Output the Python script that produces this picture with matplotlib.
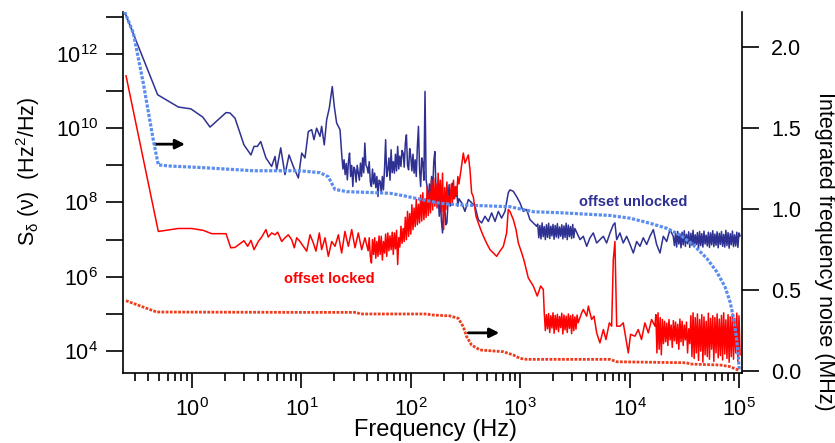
import numpy as np
import matplotlib.pyplot as plt
from matplotlib.ticker import FixedLocator, LogLocator, NullFormatter, LogFormatterSciNotation

plt.rcParams['font.family'] = ['Liberation Sans', 'DejaVu Sans']
plt.rcParams['mathtext.default'] = 'regular'

# Colours
c_unlock = '#2e3192'
c_lock = '#ff0000'
c_int_unlock = '#5b8def'
c_int_lock = '#ee3b1c'

# Spectrum, offset unlocked (log10 f in Hz, log10 S in Hz^2/Hz)
unlocked_logf = [-0.616, -0.314, -0.125, -0.01, 0.098, 0.165, 0.311, 0.347, 0.393, 0.475,
                 0.539, 0.567, 0.597, 0.628, 0.676, 0.728, 0.759, 0.774, 0.811, 0.850,
                 0.887, 0.926, 0.972, 1.003, 1.033, 1.063, 1.094, 1.115, 1.139, 1.170,
                 1.185, 1.209, 1.231, 1.255, 1.282, 1.301, 1.322, 1.353,
                 1.37, 1.38, 1.39, 1.40, 1.41, 1.42, 1.43, 1.44, 1.45, 1.46,
                 1.47, 1.48, 1.49, 1.50, 1.51, 1.52, 1.53, 1.54, 1.55, 1.56,
                 1.57, 1.58, 1.59, 1.60, 1.61, 1.62, 1.63, 1.64, 1.65, 1.66,
                 1.67, 1.68, 1.69, 1.70, 1.71, 1.72, 1.73, 1.74, 1.75, 1.76,
                 1.77, 1.78, 1.79, 1.80, 1.81, 1.82, 1.83, 1.84, 1.85, 1.86,
                 1.87, 1.88, 1.89, 1.90, 1.91, 1.92, 1.93, 1.94, 1.95, 1.96,
                 1.97, 1.98, 1.99, 2.00, 2.01, 2.02, 2.03, 2.04, 2.05, 2.06,
                 2.07, 2.08, 2.09, 2.10, 2.11, 2.12, 2.13, 2.14, 2.15, 2.16,
                 2.17, 2.18, 2.19, 2.20, 2.21, 2.22, 2.23, 2.24, 2.25, 2.26,
                 2.27, 2.28, 2.29, 2.30, 2.31, 2.32, 2.33, 2.34, 2.35, 2.36,
                 2.37, 2.38, 2.39, 2.40, 2.41, 2.42, 2.43, 2.44,
                 2.465, 2.495, 2.526, 2.556, 2.587, 2.617, 2.648, 2.678, 2.709,
                 2.739, 2.770, 2.800, 2.830, 2.861, 2.891, 2.906, 2.937, 2.967, 2.998,
                 3.028, 3.059, 3.089, 3.120, 3.150,
                 3.16, 3.17, 3.18, 3.19, 3.20, 3.21, 3.22, 3.23, 3.24, 3.25,
                 3.26, 3.27, 3.28, 3.29, 3.30, 3.31, 3.32, 3.33, 3.34, 3.35,
                 3.36, 3.37, 3.38, 3.39, 3.40, 3.41, 3.42, 3.43, 3.44, 3.45,
                 3.46, 3.47, 3.48, 3.49, 3.50,
                 3.547, 3.577, 3.608, 3.638, 3.668, 3.699, 3.729, 3.760, 3.790, 3.821,
                 3.851, 3.866, 3.882, 3.912, 3.942, 3.973, 4.004, 4.034, 4.065, 4.095,
                 4.125, 4.156, 4.186, 4.217, 4.247, 4.278, 4.308, 4.339, 4.369, 4.399,
                 4.41, 4.42, 4.43, 4.44, 4.45, 4.46, 4.47, 4.48, 4.49, 4.50,
                 4.51, 4.52, 4.53, 4.54, 4.55, 4.56, 4.57, 4.58, 4.59, 4.60,
                 4.61, 4.62, 4.63, 4.64, 4.65, 4.66, 4.67, 4.68, 4.69, 4.70,
                 4.71, 4.72, 4.73, 4.74, 4.75, 4.76, 4.77, 4.78, 4.79, 4.80,
                 4.81, 4.82, 4.83, 4.84, 4.85, 4.86, 4.87, 4.88, 4.89, 4.90,
                 4.91, 4.92, 4.93, 4.94, 4.95, 4.96, 4.97, 4.98, 4.99, 5.00,
                 5.01]
unlocked_logS = [13.13, 10.90, 10.57, 10.52, 10.30, 10.03, 10.42, 10.41, 10.27, 9.55,
                 9.28, 9.51, 9.51, 9.64, 9.20, 8.97, 9.24, 8.88, 9.47, 8.75,
                 9.28, 8.97, 8.66, 9.33, 9.20, 9.91, 9.96, 9.69, 10.00, 9.78,
                 10.05, 9.55, 10.23, 10.54, 11.12, 10.58, 10.14, 9.96,
                 9.24, 8.90, 9.15, 8.75, 9.05, 8.61, 9.10, 9.33, 8.70, 9.00,
                 8.43, 8.95, 8.88, 8.55, 9.00, 8.79, 8.60, 9.06, 8.70, 9.20,
                 8.80, 9.60, 9.00, 8.95, 8.79, 9.10, 8.55, 8.43, 8.90, 8.50,
                 8.79, 8.40, 8.70, 8.16, 8.60, 8.57, 8.25, 8.70, 8.34, 8.90,
                 9.69, 8.70, 8.88, 9.20, 8.60, 9.42, 8.80, 9.10, 8.79, 9.30,
                 8.85, 9.51, 8.90, 9.25, 8.97, 9.40, 9.33, 8.95, 9.60, 9.82,
                 9.00, 8.88, 9.45, 9.24, 8.85, 9.30, 8.79, 9.15, 8.70, 9.50,
                 10.05, 8.90, 8.43, 9.20, 9.06, 8.60, 10.99, 8.61, 8.40, 7.99,
                 8.50, 8.20, 8.70, 8.30, 9.10, 9.37, 8.40, 7.99, 8.30, 7.63,
                 8.10, 7.50, 7.18, 7.80, 7.90, 7.40, 7.45, 8.00, 8.48, 7.90,
                 8.30, 8.52, 8.10, 8.40, 8.16, 8.35, 7.90, 8.10,
                 7.99, 7.76, 8.08, 7.99, 7.90, 7.54, 7.45, 7.63, 7.49,
                 7.72, 7.49, 7.76, 7.58, 7.76, 8.26, 8.34, 8.30, 8.16, 7.99,
                 7.76, 7.81, 7.54, 7.45, 7.36,
                 7.42, 7.05, 7.38, 7.02, 7.45, 7.08, 7.35, 7.00, 7.40, 7.06,
                 7.44, 7.03, 7.36, 7.10, 7.41, 7.01, 7.38, 7.07, 7.43, 7.04,
                 7.34, 7.09, 7.40, 7.02, 7.37, 7.06, 7.44, 7.00, 7.39, 7.08,
                 7.35, 7.03, 7.41, 7.05, 7.30,
                 7.00, 7.09, 6.82, 7.05, 7.18, 6.91, 7.00, 7.09, 6.91, 7.18,
                 7.40, 7.45, 7.00, 7.18, 6.91, 7.09, 6.87, 6.64, 6.95, 6.82,
                 7.05, 6.87, 7.09, 7.27, 6.87, 6.64, 7.09, 6.95, 7.27, 7.09,
                 6.84, 7.18, 6.80, 7.22, 6.88, 7.15, 6.78, 7.20, 6.86, 7.24,
                 6.82, 7.14, 6.89, 7.21, 6.79, 7.17, 6.85, 7.25, 6.81, 7.13,
                 6.87, 7.19, 6.76, 7.22, 6.84, 7.16, 6.80, 7.23, 6.88, 7.12,
                 6.83, 7.20, 6.79, 7.18, 6.86, 7.24, 6.81, 7.15, 6.85, 7.21,
                 6.78, 7.17, 6.87, 7.22, 6.82, 7.14, 6.80, 7.25, 6.84, 7.19,
                 6.77, 7.16, 6.86, 7.23, 6.81, 7.13, 6.83, 7.20, 6.79, 7.18,
                 7.10]

# Spectrum, offset locked
locked_logf = [-0.603, -0.308, -0.125, -0.003, 0.103, 0.180, 0.311, 0.354, 0.393, 0.475,
               0.509, 0.539, 0.567, 0.606, 0.637, 0.676, 0.697, 0.728, 0.759, 0.783,
               0.820, 0.850, 0.880, 0.911, 0.935, 0.957, 0.987, 1.018, 1.048, 1.079,
               1.109, 1.133, 1.164, 1.185, 1.216, 1.246, 1.277, 1.307, 1.338, 1.368,
               1.398, 1.429, 1.460, 1.490, 1.520, 1.551, 1.581,
               1.61, 1.62, 1.63, 1.64, 1.65, 1.66, 1.67, 1.68, 1.69, 1.70,
               1.71, 1.72, 1.73, 1.74, 1.75, 1.76, 1.77, 1.78, 1.79, 1.80,
               1.81, 1.82, 1.83, 1.84, 1.85, 1.86, 1.87, 1.88, 1.89, 1.90,
               1.91, 1.92, 1.93, 1.94, 1.95, 1.96, 1.97, 1.98, 1.99, 2.00,
               2.01, 2.02, 2.03, 2.04, 2.05, 2.06, 2.07, 2.08, 2.09, 2.10,
               2.11, 2.12, 2.13, 2.14, 2.15, 2.16, 2.17, 2.18, 2.19, 2.20,
               2.21, 2.22, 2.23, 2.24, 2.25, 2.26, 2.27, 2.28, 2.29, 2.30,
               2.31, 2.32, 2.33, 2.34, 2.35, 2.36, 2.37, 2.38, 2.39, 2.40,
               2.41, 2.42, 2.43, 2.44,
               2.460, 2.480, 2.495, 2.526, 2.541, 2.556, 2.571, 2.596, 2.617,
               2.639, 2.664, 2.692, 2.724, 2.754, 2.785, 2.815, 2.846, 2.876, 2.891,
               2.906, 2.937, 2.962, 2.983, 3.014, 3.035, 3.074, 3.120, 3.156, 3.187,
               3.211,
               3.22, 3.23, 3.24, 3.25, 3.26, 3.27, 3.28, 3.29, 3.30, 3.31,
               3.32, 3.33, 3.34, 3.35, 3.36, 3.37, 3.38, 3.39, 3.40, 3.41,
               3.42, 3.43, 3.44, 3.45, 3.46, 3.47, 3.48, 3.49, 3.50, 3.51,
               3.52, 3.53,
               3.562, 3.577, 3.608, 3.623, 3.653, 3.675, 3.699, 3.729, 3.760, 3.784,
               3.815, 3.836, 3.851, 3.866, 3.882, 3.912, 3.942, 3.973, 3.988, 4.009,
               4.049, 4.079, 4.109, 4.140, 4.171, 4.201, 4.232,
               4.24, 4.25, 4.26, 4.27, 4.28, 4.29, 4.30, 4.31, 4.32, 4.33,
               4.34, 4.35, 4.36, 4.37, 4.38, 4.39, 4.40, 4.41, 4.42, 4.43,
               4.44, 4.45, 4.46, 4.47, 4.48, 4.49, 4.50, 4.51, 4.52, 4.53,
               4.54, 4.55, 4.56, 4.57, 4.58, 4.59, 4.60, 4.61, 4.62, 4.63,
               4.64, 4.65, 4.66, 4.67, 4.68, 4.69, 4.70, 4.71, 4.72, 4.73,
               4.74, 4.75, 4.76, 4.77, 4.78, 4.79, 4.80, 4.81, 4.82, 4.83,
               4.84, 4.85, 4.86, 4.87, 4.88, 4.89, 4.90, 4.91, 4.92, 4.93,
               4.94, 4.95, 4.96, 4.97, 4.98, 4.99, 5.00, 5.01]
locked_logS = [11.41, 7.22, 7.30, 7.30, 7.25, 7.16, 7.16, 6.78, 6.79, 6.97,
               6.82, 6.98, 6.73, 6.95, 7.07, 7.27, 7.07, 7.18, 7.13, 7.20,
               6.95, 7.05, 7.13, 7.00, 6.78, 7.05, 6.95, 6.82, 6.69, 7.13,
               6.91, 6.69, 7.18, 6.73, 7.05, 6.55, 6.95, 6.82, 7.13, 6.64,
               7.22, 6.82, 7.27, 6.78, 7.18, 6.73, 7.05,
               6.70, 7.05, 6.55, 6.37, 7.00, 6.60, 7.05, 6.50, 6.95, 6.55,
               7.10, 6.60, 7.09, 6.45, 6.95, 6.64, 7.15, 6.55, 7.18, 6.70,
               7.10, 6.73, 7.20, 6.60, 7.18, 6.75, 7.25, 6.33, 7.05, 6.80,
               7.36, 6.90, 7.30, 6.95, 7.60, 7.00, 7.76, 7.09, 7.70, 7.15,
               7.94, 7.27, 7.85, 7.35, 8.08, 7.40, 7.95, 7.45, 8.20, 7.50,
               8.26, 7.54, 8.10, 7.60, 8.43, 7.65, 8.30, 7.72, 8.61, 7.80,
               8.66, 7.90, 8.50, 7.85, 8.79, 7.99, 8.60, 7.75, 8.79, 7.27,
               8.40, 7.81, 8.55, 7.95, 8.16, 8.00, 8.50, 7.99, 8.60, 8.10,
               8.43, 8.20, 8.70, 8.50,
               8.90, 9.33, 9.06, 9.28, 8.88, 8.26, 8.16, 7.63, 7.45,
               7.27, 7.09, 6.91, 6.73, 6.64, 6.55, 6.69, 6.82, 7.18, 7.81,
               7.76, 7.54, 7.27, 6.91, 6.64, 6.44, 5.97, 5.75, 5.48, 5.75,
               5.66,
               5.03, 4.55, 4.98, 4.60, 5.01, 4.50, 4.95, 4.62, 5.03, 4.48,
               4.96, 4.58, 4.99, 4.52, 4.93, 4.63, 5.02, 4.46, 4.97, 4.57,
               4.94, 4.50, 5.00, 4.61, 4.95, 4.47, 4.98, 4.55, 4.92, 4.59,
               4.97, 4.76,
               5.03, 5.12, 4.94, 5.21, 4.85, 4.94, 4.49, 4.22, 4.58, 4.31,
               4.76, 4.67, 6.46, 6.95, 4.67, 4.67, 4.76, 4.22, 3.95, 4.45,
               4.40, 4.58, 4.31, 4.76, 4.49, 4.85, 4.67,
               4.98, 3.95, 5.03, 4.05, 4.90, 3.90, 4.85, 4.20, 4.80, 4.25,
               4.75, 4.15, 4.85, 4.30, 4.70, 4.10, 4.82, 4.28, 4.78, 4.20,
               4.72, 4.05, 4.86, 4.25, 4.80, 4.15, 4.70, 4.30, 4.78, 3.95,
               4.60, 4.20, 4.95, 3.85, 5.03, 3.80, 4.90, 3.95, 5.00, 3.75,
               4.85, 4.00, 4.98, 3.70, 4.92, 3.90, 4.80, 3.85, 5.02, 3.78,
               4.88, 4.05, 4.95, 3.72, 4.90, 3.95, 5.00, 3.82, 4.86, 3.88,
               4.96, 3.76, 5.03, 3.92, 4.84, 3.80, 4.98, 3.70, 4.92, 3.85,
               5.00, 3.78, 4.88, 3.95, 5.02, 3.72, 4.95, 3.90]

# Integrated frequency noise (MHz), offset unlocked
int_unlocked_logf = [-0.616, -0.536, -0.445, -0.354, -0.308, -0.201, 0.103, 0.347, 0.560, 0.987,
                     1.170, 1.246, 1.277, 1.307, 1.414, 1.657, 1.810, 1.932, 2.115, 2.267,
                     2.450, 2.664, 2.906, 3.120, 3.364, 3.577, 3.821, 4.004, 4.186, 4.339,
                     4.461, 4.583, 4.705, 4.796, 4.872, 4.918, 4.954, 4.979, 4.994, 5.003]
int_unlocked_mhz = [2.218, 2.085, 1.776, 1.426, 1.272, 1.265, 1.255, 1.245, 1.236, 1.236,
                    1.224, 1.199, 1.158, 1.121, 1.107, 1.101, 1.097, 1.082, 1.056, 1.035,
                    1.025, 1.020, 1.014, 0.983, 0.977, 0.969, 0.960, 0.943, 0.912, 0.881,
                    0.840, 0.778, 0.696, 0.613, 0.520, 0.428, 0.315, 0.191, 0.088, 0.000]

# Integrated frequency noise (MHz), offset locked
int_locked_logf = [-0.603, -0.323, 0.987, 1.505, 1.536, 2.145, 2.191, 2.358, 2.434, 2.480,
                   2.511, 2.556, 2.632, 2.846, 2.937, 2.998, 3.059, 3.821, 3.882, 4.521,
                   4.552, 4.826, 4.918, 4.994]
int_locked_mhz = [0.434, 0.364, 0.362, 0.362, 0.352, 0.352, 0.346, 0.340, 0.325, 0.273,
                  0.212, 0.160, 0.130, 0.119, 0.099, 0.078, 0.072, 0.072, 0.057, 0.051,
                  0.043, 0.037, 0.027, 0.006]

# Arrows (log10 f start, log10 f end, log10 S)
arrow_unlocked = (-0.338, -0.064, 9.57)
arrow_locked = (2.526, 2.809, 4.49)

fig = plt.figure(figsize=(8.35, 4.43), dpi=100)
ax = fig.add_axes([0.1473, 0.158, 0.7413, 0.815])
ax.set_xscale('log')
ax.set_yscale('log')

ax.plot(10 ** np.array(unlocked_logf), 10 ** np.array(unlocked_logS), color=c_unlock, lw=1.1)
ax.plot(10 ** np.array(locked_logf), 10 ** np.array(locked_logS), color=c_lock, lw=1.1)

for a in (arrow_unlocked, arrow_locked):
    ax.annotate('', xy=(10 ** a[1], 10 ** a[2]), xytext=(10 ** a[0], 10 ** a[2]),
                arrowprops=dict(arrowstyle='-|>', color='black', lw=2.0,
                                mutation_scale=14, shrinkA=0, shrinkB=0))

ax.text(10 ** 4.031, 10 ** 8.02, 'offset unlocked', color=c_unlock, fontsize=10.5,
        fontweight='bold', ha='center', va='center')
ax.text(10 ** 1.257, 10 ** 5.95, 'offset locked', color=c_lock, fontsize=10.5,
        fontweight='bold', ha='center', va='center')

ax.set_xlim(0.234, 1.065e5)
ax.set_ylim(2566, 1.346e13)

ax.yaxis.set_major_locator(FixedLocator([1e4, 1e6, 1e8, 1e10, 1e12]))
ax.yaxis.set_minor_locator(FixedLocator([1e5, 1e7, 1e9, 1e11, 1e13]))
ax.yaxis.set_major_formatter(LogFormatterSciNotation())
ax.yaxis.set_minor_formatter(NullFormatter())
ax.xaxis.set_major_locator(LogLocator(base=10, numticks=10))
ax.xaxis.set_minor_locator(LogLocator(base=10, subs=np.arange(2, 10), numticks=20))
ax.xaxis.set_minor_formatter(NullFormatter())

ax.tick_params(axis='both', which='both', direction='out', width=1.2, labelsize=15.5)
ax.tick_params(axis='y', which='both', length=12, pad=6)
ax.tick_params(axis='x', which='major', length=11, pad=7)
ax.tick_params(axis='x', which='minor', length=6)
for s in ('top', 'right'):
    ax.spines[s].set_visible(False)
for s in ('left', 'bottom'):
    ax.spines[s].set_linewidth(1.2)

ax2 = ax.twinx()
ax2.plot(10 ** np.array(int_unlocked_logf), int_unlocked_mhz, color=c_int_unlock,
         lw=2.3, linestyle=(0, (1, 0.5)))
ax2.plot(10 ** np.array(int_locked_logf), int_locked_mhz, color=c_int_lock,
         lw=2.0, linestyle=(0, (1, 0.5)))
ax2.set_ylim(-0.0123, 2.216)
ax2.set_yticks([0.0, 0.5, 1.0, 1.5, 2.0])
ax2.set_yticklabels(['0.0', '0.5', '1.0', '1.5', '2.0'])
ax2.tick_params(axis='y', direction='out', length=12, width=1.2, labelsize=15.5, pad=9)
for s in ('top', 'left', 'bottom'):
    ax2.spines[s].set_visible(False)
ax2.spines['right'].set_linewidth(1.2)

fig.text(435 / 835, 1 - 430 / 443, 'Frequency (Hz)', fontsize=17, ha='center', va='center')
fig.text(28 / 835, 1 - 171 / 443, r'S$_{δ}$ (ν)  (Hz$^{2}$/Hz)', fontsize=15.5,
         rotation=90, ha='center', va='center')
fig.text(824 / 835, 1 - 251 / 443, 'Integrated frequency noise (MHz)', fontsize=15.5,
         rotation=270, ha='center', va='center')

fig.savefig('out.png', dpi=100)
